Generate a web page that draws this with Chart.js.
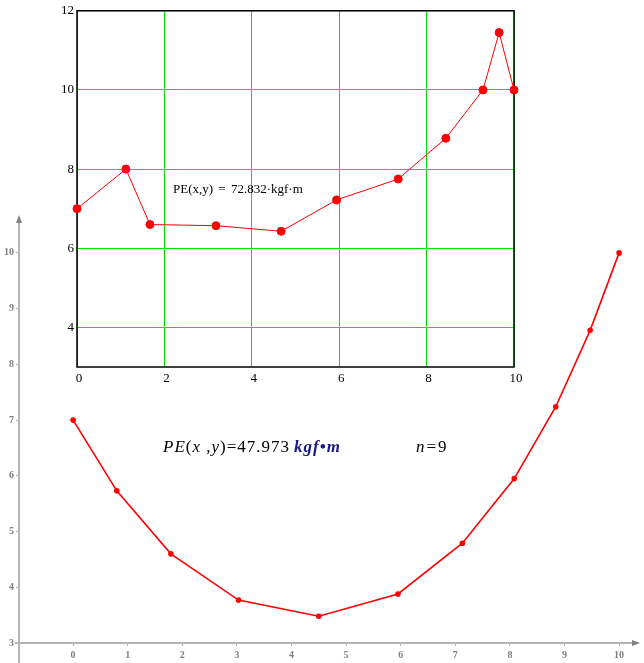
<!DOCTYPE html>
<html lang="en">
<head>
  <meta charset="UTF-8">
  <title>PE(x,y)</title>
  <script src="https://cdn.jsdelivr.net/npm/chart.js"></script>
  <style>
    body { margin: 0; background: #fff; }
    #wrap { position: relative; width: 644px; height: 663px; overflow: hidden; }
    canvas { position: absolute; left: 0; top: 0; }
    .note { position: absolute; white-space: nowrap; font-family: "Liberation Serif", "Times New Roman", serif; color: #000; }
    #noteTop { left: 173px; top: 181px; font-size: 13px; word-spacing: 2px; }
    #noteBot { left: 163px; top: 437px; font-size: 17px; letter-spacing: 1px; }
    #noteN { left: 416px; top: 437px; font-size: 17px; letter-spacing: 2px; }
    .unit { color: #1a1a80; font-weight: bold; font-style: italic; margin-left: 4px; }
  </style>
</head>
<body>
<div id="wrap">
  <canvas id="bottomChart" width="644" height="663"></canvas>
  <canvas id="topChart" width="530" height="395"></canvas>
  <div class="note" id="noteTop">PE(x,y) = 72.832·kgf·m</div>
  <div class="note" id="noteBot"><i>PE</i>(<i>x</i> ,<i>y</i>)=47.973<span class="unit">kgf•m</span></div>
  <div class="note" id="noteN"><i>n</i>=9</div>
</div>

<script>
  // upper plot (points joined)
  const topX = [0, 1.12, 1.67, 3.18, 4.67, 5.94, 7.35, 8.44, 9.29, 9.66, 10];
  const topY = [7.0, 8.0, 6.6, 6.57, 6.43, 7.22, 7.75, 8.78, 10.0, 11.45, 10.0];
  const topXTicks = [0, 2, 4, 6, 8, 10];
  const topYTicks = [4, 6, 8, 10, 12];

  // lower plot
  const botX = [0, 0.80, 1.79, 3.03, 4.50, 5.95, 7.13, 8.08, 8.84, 9.47, 10];
  const botY = [7.0, 5.73, 4.60, 3.77, 3.48, 3.88, 4.79, 5.95, 7.24, 8.61, 10.0];
  const botXTicks = [0, 1, 2, 3, 4, 5, 6, 7, 8, 9, 10];
  const botYTicks = [3, 4, 5, 6, 7, 8, 9, 10];

  function toPoints(xs, ys) {
    return xs.map((x, i) => ({ x: x, y: ys[i] }));
  }
  function fixedTicks(list) {
    return function (scale) { scale.ticks = list.map(v => ({ value: v })); };
  }

  // black frame round the upper plot
  const framePlugin = {
    id: 'frame',
    beforeDatasetsDraw(chart) {
      const a = chart.chartArea, c = chart.ctx;
      c.save();
      c.strokeStyle = '#000';
      c.lineWidth = 1.5;
      c.strokeRect(a.left, a.top, a.right - a.left, a.bottom - a.top);
      c.restore();
    }
  };

  // grey axes with arrow heads for the lower plot
  const arrowAxes = {
    id: 'arrowAxes',
    beforeDatasetsDraw(chart) {
      const a = chart.chartArea, c = chart.ctx;
      c.save();
      c.strokeStyle = '#b4b4b4';
      c.fillStyle = '#808080';
      c.lineWidth = 2;
      c.beginPath();
      c.moveTo(a.left - 4, a.bottom); c.lineTo(a.right - 6, a.bottom);
      c.moveTo(a.left, a.top + 6); c.lineTo(a.left, chart.height);
      c.stroke();
      c.beginPath();
      c.moveTo(a.right, a.bottom); c.lineTo(a.right - 8, a.bottom - 3); c.lineTo(a.right - 8, a.bottom + 3);
      c.closePath(); c.fill();
      c.beginPath();
      c.moveTo(a.left, a.top); c.lineTo(a.left - 3, a.top + 8); c.lineTo(a.left + 3, a.top + 8);
      c.closePath(); c.fill();
      c.restore();
    }
  };

  const serif = '"Liberation Serif", "Times New Roman", serif';

  new Chart(document.getElementById('bottomChart'), {
    type: 'scatter',
    data: {
      datasets: [{
        data: toPoints(botX, botY),
        showLine: true,
        borderColor: '#ff0000',
        backgroundColor: '#ff0000',
        borderWidth: 1.6,
        pointRadius: 2,
        pointHoverRadius: 2,
        clip: false
      }]
    },
    options: {
      responsive: false,
      animation: false,
      devicePixelRatio: 1,
      layout: { padding: { top: 215, right: 4, left: 0, bottom: 0 } },
      plugins: { legend: { display: false }, tooltip: { enabled: false } },
      scales: {
        x: {
          type: 'linear',
          min: -0.991,
          max: 10.383,
          afterBuildTicks: fixedTicks(botXTicks),
          afterFit(scale) { scale.height = 20; },
          border: { display: false },
          grid: { drawOnChartArea: false, tickLength: 3, color: '#b4b4b4', tickWidth: 1 },
          ticks: { color: '#808080', padding: 3, font: { family: serif, size: 10, weight: 'bold' }, maxRotation: 0 }
        },
        y: {
          type: 'linear',
          min: 3,
          max: 10.68,
          afterBuildTicks: fixedTicks(botYTicks),
          afterFit(scale) { scale.width = 19; },
          border: { display: false },
          grid: { drawOnChartArea: false, tickLength: 3, color: '#b4b4b4', tickWidth: 1 },
          ticks: { color: '#808080', padding: 2, font: { family: serif, size: 10, weight: 'bold' } }
        }
      }
    },
    plugins: [arrowAxes]
  });

  new Chart(document.getElementById('topChart'), {
    type: 'scatter',
    data: {
      datasets: [{
        data: toPoints(topX, topY),
        showLine: true,
        borderColor: '#ff0000',
        backgroundColor: '#ff0000',
        borderWidth: 1,
        pointRadius: 4,
        pointHoverRadius: 4,
        clip: false
      }]
    },
    options: {
      responsive: false,
      animation: false,
      devicePixelRatio: 1,
      layout: { padding: { top: 7, right: 16, left: 0, bottom: 0 } },
      plugins: { legend: { display: false }, tooltip: { enabled: false } },
      scales: {
        x: {
          type: 'linear',
          min: 0,
          max: 10,
          afterBuildTicks: fixedTicks(topXTicks),
          afterFit(scale) { scale.height = 28; },
          border: { display: false },
          grid: { color: '#00e600', lineWidth: 1, drawTicks: false },
          ticks: { color: '#000', padding: 4, labelOffset: 2, font: { family: serif, size: 13 }, maxRotation: 0 }
        },
        y: {
          type: 'linear',
          min: 3,
          max: 12,
          afterBuildTicks: fixedTicks(topYTicks),
          afterFit(scale) { scale.width = 77; },
          border: { display: false },
          grid: { color: '#00e600', lineWidth: 1, drawTicks: false },
          ticks: { color: '#000', padding: 3, font: { family: serif, size: 13 } }
        }
      }
    },
    plugins: [framePlugin]
  });
</script>
</body>
</html>
